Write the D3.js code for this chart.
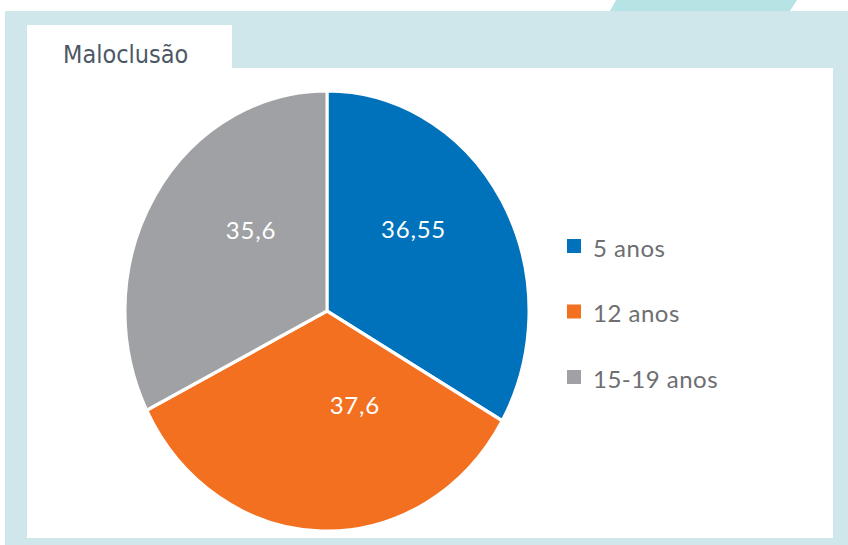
<!DOCTYPE html>
<html>
<head>
<meta charset="utf-8">
<script src="https://cdn.jsdelivr.net/npm/d3@7"></script>
<style>
  body { margin:0; background:#fff; }
  svg text { font-family: "Lato", "Noto Sans", sans-serif; }
</style>
</head>
<body>
<div id="chart"></div>
<script>
const categories = ["5 anos", "12 anos", "15-19 anos"];
const values     = [36.55, 37.6, 35.6];
const valueLabels = ["36,55", "37,6", "35,6"];
const colors     = ["#0072bc", "#f37021", "#a0a1a5"];
const title      = "Maloclusão";

const width = 848, height = 545;

const svg = d3.select("#chart").append("svg")
  .attr("width", width).attr("height", height);

// frame: cyan border, white panel and title tab
svg.append("path")
  .attr("d", "M616,0 L797,0 L790,11 L610,11 Z")
  .attr("fill", "#b6e4e4");
svg.append("rect")
  .attr("x", 5).attr("y", 11).attr("width", width - 5).attr("height", height - 11)
  .attr("fill", "#cfe6ea");
svg.append("rect")
  .attr("x", 27).attr("y", 25).attr("width", 205).attr("height", 50)
  .attr("fill", "#fff");
svg.append("rect")
  .attr("x", 27).attr("y", 68).attr("width", 806).attr("height", 470)
  .attr("fill", "#fff");
svg.append("text")
  .attr("x", 63).attr("y", 63)
  .attr("font-size", 25)
  .attr("fill", "#4d5866")
  .style("font-family", "'DejaVu Sans Condensed', 'Open Sans', sans-serif")
  .text(title);

// pie (slightly stretched vertically, as in the picture)
const cx = 327, cy = 311, r = 202, sy = 1.09;
const pie = d3.pie().sort(null).value(d => d)(values);
const arc = d3.arc().innerRadius(0).outerRadius(r);

const g = svg.append("g")
  .attr("transform", `translate(${cx},${cy}) scale(1,${sy})`);
g.selectAll("path.slice")
  .data(pie)
  .join("path")
    .attr("class", "slice")
    .attr("d", arc)
    .attr("fill", (d, i) => colors[i])
    .attr("stroke", "#fff")
    .attr("stroke-width", 3);

// labels placed near the centroid of an inner arc, then nudged like the source
const labelArc = d3.arc().innerRadius(0).outerRadius(r * 1.15);
const nudge = [[-14, -19], [31, -33], [23, -15]];
svg.append("g").selectAll("text.val")
  .data(pie)
  .join("text")
    .attr("class", "val")
    .attr("x", (d, i) => cx + labelArc.centroid(d)[0] + nudge[i][0])
    .attr("y", (d, i) => cy + labelArc.centroid(d)[1] * sy + nudge[i][1])
    .attr("text-anchor", "middle")
    .attr("dominant-baseline", "central")
    .attr("font-size", 24)
    .attr("letter-spacing", 0.8)
    .attr("fill", "#fff")
    .text((d, i) => valueLabels[i]);

// legend
const ly = d3.scalePoint().domain(categories).range([246, 377]);
const leg = svg.append("g").selectAll("g")
  .data(categories)
  .join("g")
    .attr("transform", d => `translate(567,${ly(d)})`);
leg.append("rect")
  .attr("x", 0).attr("y", -7).attr("width", 14).attr("height", 14)
  .attr("fill", (d, i) => colors[i]);
leg.append("text")
  .attr("x", 26).attr("y", 1)
  .attr("dominant-baseline", "central")
  .attr("font-size", 24)
  .attr("letter-spacing", 0.5)
  .attr("fill", "#6d6e71")
  .text(d => d);
</script>
</body>
</html>
